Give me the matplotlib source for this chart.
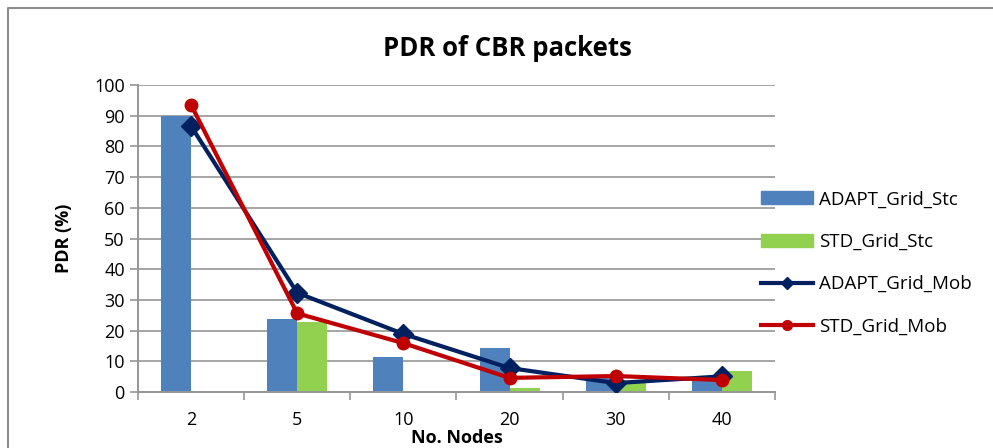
import matplotlib
matplotlib.use("Agg")
import matplotlib.pyplot as plt
from matplotlib.lines import Line2D
import numpy as np

plt.rcParams["font.family"] = ["Open Sans", "DejaVu Sans"]

# Chart data.
nodes = ["2", "5", "10", "20", "30", "40"]
adapt_stc = [90.0, 23.8, 11.4, 14.2, 4.5, 4.0]
std_stc = [0.0, 22.9, 0.0, 1.3, 3.3, 6.7]
adapt_mob = [86.6, 32.3, 18.9, 7.8, 2.9, 5.1]
std_mob = [93.5, 25.6, 15.9, 4.6, 5.2, 3.9]

BLUE_BAR = "#4f81bd"
GREEN_BAR = "#92d050"
NAVY = "#002060"
RED = "#c00000"
GRID = "#969696"

fig = plt.figure(figsize=(9.93, 4.48), dpi=100)
ax = fig.add_axes([138 / 993, 56 / 448, 637 / 993, 307 / 448])

x = np.arange(len(nodes))
w = 0.283
ax.bar(x - w / 2, adapt_stc, w, color=BLUE_BAR, zorder=2)
ax.bar(x + w / 2, std_stc, w, color=GREEN_BAR, zorder=2)
ax.plot(x, adapt_mob, color=NAVY, lw=3, marker="D", ms=10, zorder=3)
ax.plot(x, std_mob, color=RED, lw=3, marker="o", ms=9, zorder=4)

ax.set_xlim(-0.5, len(nodes) - 0.5)
ax.set_ylim(0, 100)
ax.set_yticks(np.arange(0, 101, 10))
ax.set_xticks(x)
ax.set_xticklabels(nodes)
ax.set_xticks(np.arange(-0.5, len(nodes), 1), minor=True)
ax.tick_params(axis="x", which="major", length=0, pad=14, labelsize=13)
ax.tick_params(axis="x", which="minor", length=6, color=GRID, width=1.2)
ax.tick_params(axis="y", length=6, color=GRID, width=1.2, labelsize=13)

ax.grid(axis="y", color=GRID, lw=1.2, zorder=0)
for s in ["top", "right"]:
    ax.spines[s].set_visible(False)
for s in ["left", "bottom"]:
    ax.spines[s].set_color(GRID)
    ax.spines[s].set_linewidth(1.4)

ax.set_ylabel("PDR (%)", fontsize=13, fontweight="bold")
ax.yaxis.set_label_coords((73 - 138) / 637, 0.5)
ax.set_xlabel("No. Nodes", fontsize=13, fontweight="bold")
ax.xaxis.set_label_coords(0.5, -(429 - 392) / 307)
fig.text(507 / 993, 1 - 49 / 448, "PDR of CBR packets", ha="center",
         va="center", fontsize=18.5, fontweight="bold")

handles = [
    plt.Rectangle((0, 0), 1, 1, color=BLUE_BAR),
    plt.Rectangle((0, 0), 1, 1, color=GREEN_BAR),
    Line2D([], [], color=NAVY, lw=3, marker="D", ms=6),
    Line2D([], [], color=RED, lw=3, marker="o", ms=7),
]
labels = ["ADAPT_Grid_Stc", "STD_Grid_Stc", "ADAPT_Grid_Mob", "STD_Grid_Mob"]
ax.legend(handles, labels, loc="center left", bbox_to_anchor=(0.966, 0.42),
          frameon=False, fontsize=13.5, handlelength=2.8, labelspacing=1.3,
          handletextpad=0.3, borderaxespad=0)

# outer chart border (left and top edges are visible in the picture)
fig.add_artist(Line2D([7.5 / 993, 7.5 / 993, 1.0], [0.0, 1 - 8.5 / 448, 1 - 8.5 / 448],
                      transform=fig.transFigure, color="#8c8c8c", lw=1.5))

fig.savefig("out.png", dpi=100)
